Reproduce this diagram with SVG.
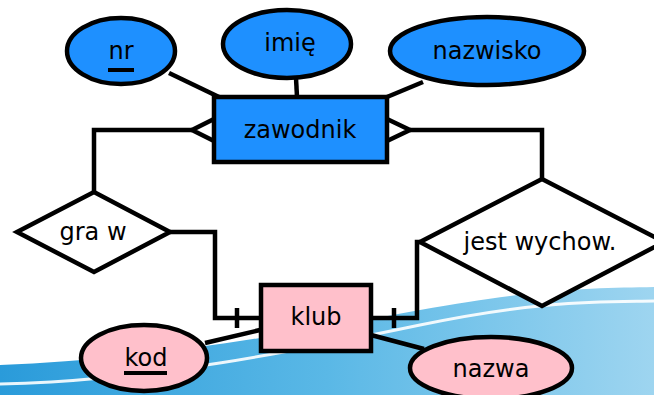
<svg xmlns="http://www.w3.org/2000/svg" width="654" height="395" viewBox="0 0 654 395">
  <defs>
    <linearGradient id="wave" x1="0" y1="0" x2="1" y2="0">
      <stop offset="0" stop-color="#2a9bda"/>
      <stop offset="0.5" stop-color="#5ab8e6"/>
      <stop offset="1" stop-color="#9ed5f0"/>
    </linearGradient>
    <style>
      .ln { fill: none; stroke: #000; stroke-width: 4.5; }
      .ent { stroke: #000; stroke-width: 4.5; }
      .blue { fill: #1e90ff; }
      .pink { fill: #ffc0cb; }
      .rel { fill: #fff; stroke: #000; stroke-width: 4.5; stroke-linejoin: miter; }
      text { font-family: "DejaVu Sans", "Liberation Sans", sans-serif; font-size: 24px; fill: #000; text-anchor: middle; }
    </style>
  </defs>
  <rect x="0" y="0" width="654" height="395" fill="#fff"/>
  <g id="background">
    <path d="M0,365 C150,360 300,332 420,310 S600,288 654,287 L654,395 L0,395 Z" fill="url(#wave)"/>
    <path d="M0,384 C150,381 300,350 420,325 S600,302 654,301" fill="none" stroke="#fff" stroke-width="3" opacity="0.9"/>
  </g>
  <g id="connectors">
    <line class="ln" x1="169" y1="73" x2="219" y2="97"/>
    <line class="ln" x1="296" y1="78" x2="297" y2="97"/>
    <line class="ln" x1="423" y1="82" x2="387" y2="97"/>
    <polyline class="ln" points="94,192 94,130 192,130"/>
    <polyline class="ln" points="214,119 192,130 214,141"/>
    <polyline class="ln" points="542,179 542,130 410,130"/>
    <polyline class="ln" points="387,119 410,130 387,141"/>
    <polyline class="ln" points="170,232 215,232 215,318 260,318"/>
    <line class="ln" x1="237" y1="308" x2="237" y2="328"/>
    <polyline class="ln" points="420,242 417,242 417,318 371,318"/>
    <line class="ln" x1="394" y1="308" x2="394" y2="328"/>
    <line class="ln" x1="205" y1="343" x2="260" y2="330"/>
    <line class="ln" x1="371" y1="335" x2="424" y2="349"/>
  </g>
  <g id="nr">
    <ellipse class="ent blue" cx="121" cy="51" rx="54" ry="33"/>
    <text x="121" y="59">nr</text>
    <line x1="108" y1="70" x2="134" y2="70" stroke="#000" stroke-width="4"/>
  </g>
  <g id="imie">
    <ellipse class="ent blue" cx="287" cy="44" rx="64" ry="34"/>
    <text x="290" y="51">imię</text>
  </g>
  <g id="nazwisko">
    <ellipse class="ent blue" cx="487" cy="51" rx="97" ry="34"/>
    <text x="487" y="59">nazwisko</text>
  </g>
  <g id="zawodnik">
    <rect class="ent blue" x="214" y="97" width="173" height="65"/>
    <text x="300" y="138">zawodnik</text>
  </g>
  <g id="gra_w">
    <polygon class="rel" points="17,232 94,192 170,232 94,272"/>
    <text x="93" y="240">gra w</text>
  </g>
  <g id="jest_wychow">
    <polygon class="rel" points="420,242 542,179 664,242 542,306"/>
    <text x="540" y="250">jest wychow.</text>
  </g>
  <g id="klub">
    <rect class="ent pink" x="261" y="285" width="110" height="66"/>
    <text x="316" y="325">klub</text>
  </g>
  <g id="kod">
    <ellipse class="ent pink" cx="144" cy="358" rx="63" ry="33"/>
    <text x="146" y="366">kod</text>
    <line x1="124" y1="373" x2="167" y2="373" stroke="#000" stroke-width="4"/>
  </g>
  <g id="nazwa">
    <ellipse class="ent pink" cx="491" cy="368" rx="81" ry="31"/>
    <text x="491" y="377">nazwa</text>
  </g>
</svg>
